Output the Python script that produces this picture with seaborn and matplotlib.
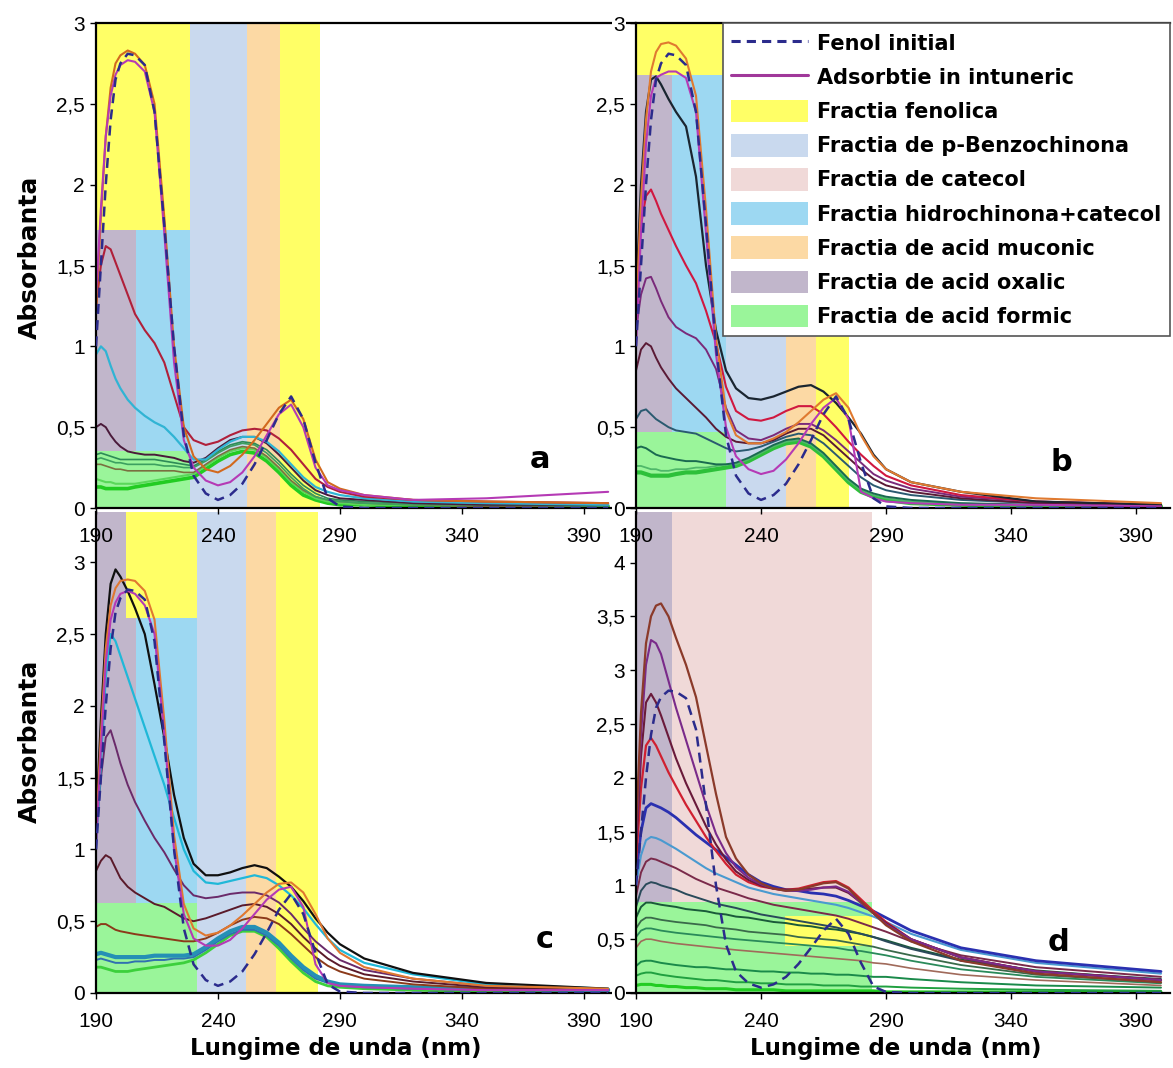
import matplotlib
matplotlib.use("Agg")
import matplotlib.pyplot as plt
from matplotlib.patches import Patch
from matplotlib.lines import Line2D
import seaborn as sns

WAVELENGTH = [190, 192, 194, 196, 198, 200, 203, 206, 210, 214,
              218, 222, 226, 230, 235, 240, 245, 250, 255, 260,
              265, 270, 275, 280, 285, 290, 300, 320, 350, 400]

FENOL_INITIAL = [1.00, 1.50, 2.00, 2.40, 2.65, 2.75, 2.81, 2.80, 2.74, 2.45,
                 1.75, 1.00, 0.45, 0.20, 0.09, 0.05, 0.08, 0.15, 0.27, 0.42,
                 0.58, 0.69, 0.55, 0.28, 0.06, 0.01, 0.00, 0.00, 0.00, 0.00]

# panel a
A_ORANGE = [1.20, 1.80, 2.30, 2.60, 2.75, 2.80, 2.83, 2.81, 2.74, 2.50,
            1.80, 1.00, 0.50, 0.32, 0.24, 0.22, 0.26, 0.33, 0.42, 0.52,
            0.62, 0.67, 0.55, 0.30, 0.16, 0.12, 0.08, 0.05, 0.04, 0.03]
A_ADS = [1.30, 1.85, 2.30, 2.55, 2.68, 2.74, 2.77, 2.76, 2.70, 2.45,
         1.70, 0.90, 0.42, 0.25, 0.17, 0.14, 0.16, 0.22, 0.32, 0.45,
         0.58, 0.64, 0.50, 0.25, 0.14, 0.11, 0.08, 0.05, 0.06, 0.10]
A_MAROON = [1.25, 1.50, 1.62, 1.60, 1.52, 1.44, 1.32, 1.20, 1.10, 1.02,
            0.90, 0.70, 0.50, 0.42, 0.39, 0.41, 0.45, 0.48, 0.49, 0.48,
            0.43, 0.36, 0.27, 0.18, 0.13, 0.10, 0.07, 0.05, 0.04, 0.03]
A_CYAN = [0.95, 1.00, 0.97, 0.88, 0.80, 0.74, 0.67, 0.62, 0.57, 0.53,
          0.50, 0.44, 0.37, 0.30, 0.30, 0.36, 0.41, 0.44, 0.44, 0.41,
          0.35, 0.27, 0.19, 0.13, 0.10, 0.08, 0.06, 0.04, 0.03, 0.02]
A_DARK = [0.50, 0.52, 0.50, 0.45, 0.41, 0.38, 0.35, 0.34, 0.33, 0.33,
          0.32, 0.31, 0.29, 0.28, 0.31, 0.37, 0.42, 0.44, 0.44, 0.40,
          0.33, 0.25, 0.17, 0.11, 0.08, 0.06, 0.05, 0.03, 0.02, 0.02]
A_GREEN1 = [0.33, 0.34, 0.33, 0.32, 0.31, 0.30, 0.30, 0.30, 0.30, 0.30,
            0.29, 0.28, 0.27, 0.26, 0.30, 0.35, 0.39, 0.41, 0.40, 0.36,
            0.29, 0.21, 0.14, 0.09, 0.06, 0.05, 0.04, 0.03, 0.02, 0.02]
A_GREEN2 = [0.30, 0.31, 0.30, 0.29, 0.28, 0.28, 0.27, 0.27, 0.27, 0.27,
            0.26, 0.26, 0.25, 0.25, 0.29, 0.34, 0.38, 0.40, 0.39, 0.34,
            0.27, 0.19, 0.12, 0.07, 0.05, 0.04, 0.03, 0.02, 0.02, 0.01]
A_OLIVE = [0.27, 0.27, 0.26, 0.25, 0.24, 0.24, 0.23, 0.23, 0.23, 0.23,
           0.23, 0.23, 0.22, 0.22, 0.27, 0.32, 0.36, 0.38, 0.37, 0.32,
           0.25, 0.17, 0.11, 0.07, 0.05, 0.04, 0.03, 0.02, 0.01, 0.01]
A_GREEN3 = [0.18, 0.17, 0.16, 0.16, 0.15, 0.15, 0.15, 0.15, 0.16, 0.17,
            0.18, 0.19, 0.20, 0.21, 0.26, 0.31, 0.35, 0.37, 0.36, 0.31,
            0.24, 0.16, 0.10, 0.06, 0.04, 0.03, 0.02, 0.02, 0.01, 0.01]
A_GREEN4 = [0.13, 0.13, 0.12, 0.12, 0.12, 0.12, 0.12, 0.13, 0.14, 0.15,
            0.16, 0.17, 0.18, 0.19, 0.24, 0.29, 0.33, 0.35, 0.34, 0.29,
            0.22, 0.14, 0.08, 0.05, 0.03, 0.02, 0.02, 0.01, 0.01, 0.01]

# panel b
B_ORANGE = [1.20, 1.90, 2.40, 2.70, 2.82, 2.87, 2.88, 2.86, 2.78, 2.55,
            1.85, 1.05, 0.60, 0.45, 0.40, 0.40, 0.43, 0.47, 0.53, 0.60,
            0.67, 0.71, 0.62, 0.45, 0.32, 0.24, 0.16, 0.10, 0.06, 0.03]
B_ADS = [1.00, 1.70, 2.25, 2.55, 2.66, 2.68, 2.70, 2.70, 2.66, 2.45,
         1.70, 0.95, 0.50, 0.32, 0.24, 0.21, 0.23, 0.30, 0.40, 0.52,
         0.62, 0.68, 0.55, 0.10, 0.06, 0.04, 0.03, 0.02, 0.02, 0.01]
B_BLACK = [1.30, 2.00, 2.45, 2.65, 2.67, 2.62, 2.53, 2.45, 2.36, 2.05,
           1.50, 1.10, 0.85, 0.74, 0.68, 0.67, 0.69, 0.72, 0.75, 0.76,
           0.72, 0.65, 0.56, 0.46, 0.33, 0.24, 0.16, 0.10, 0.04, 0.02]
B_RED = [1.40, 1.75, 1.93, 1.97, 1.90, 1.82, 1.72, 1.62, 1.50, 1.39,
         1.22, 1.02, 0.75, 0.60, 0.55, 0.54, 0.56, 0.60, 0.63, 0.63,
         0.58, 0.50, 0.41, 0.33, 0.26, 0.20, 0.14, 0.08, 0.04, 0.02]
B_PURPLE = [1.10, 1.32, 1.42, 1.43, 1.36, 1.28, 1.18, 1.12, 1.08, 1.05,
            0.98, 0.86, 0.62, 0.48, 0.43, 0.42, 0.45, 0.49, 0.52, 0.52,
            0.48, 0.42, 0.35, 0.28, 0.21, 0.17, 0.12, 0.07, 0.04, 0.02]
B_MAROON = [0.85, 0.98, 1.02, 1.00, 0.93, 0.87, 0.80, 0.74, 0.68, 0.62,
            0.56, 0.49, 0.44, 0.41, 0.40, 0.40, 0.42, 0.46, 0.49, 0.49,
            0.45, 0.38, 0.31, 0.24, 0.18, 0.14, 0.10, 0.06, 0.03, 0.02]
B_TEAL = [0.55, 0.60, 0.61, 0.58, 0.55, 0.53, 0.50, 0.48, 0.47, 0.46,
          0.43, 0.40, 0.37, 0.35, 0.36, 0.38, 0.41, 0.44, 0.46, 0.45,
          0.40, 0.33, 0.26, 0.19, 0.14, 0.11, 0.08, 0.05, 0.03, 0.02]
B_DGREEN = [0.37, 0.38, 0.37, 0.35, 0.33, 0.32, 0.31, 0.30, 0.29, 0.29,
            0.28, 0.27, 0.27, 0.28, 0.31, 0.35, 0.39, 0.42, 0.43, 0.40,
            0.34, 0.26, 0.18, 0.12, 0.09, 0.07, 0.05, 0.03, 0.02, 0.01]
B_GREEN2 = [0.26, 0.26, 0.25, 0.24, 0.24, 0.23, 0.23, 0.24, 0.24, 0.25,
            0.25, 0.26, 0.27, 0.27, 0.30, 0.34, 0.38, 0.41, 0.42, 0.39,
            0.33, 0.25, 0.17, 0.11, 0.08, 0.06, 0.04, 0.02, 0.01, 0.01]
B_GREEN = [0.22, 0.22, 0.21, 0.20, 0.20, 0.20, 0.20, 0.21, 0.22, 0.22,
           0.23, 0.24, 0.25, 0.26, 0.29, 0.33, 0.37, 0.40, 0.41, 0.38,
           0.32, 0.24, 0.16, 0.10, 0.07, 0.05, 0.03, 0.02, 0.01, 0.01]

# panel c
C_ORANGE = [1.10, 1.80, 2.40, 2.70, 2.82, 2.87, 2.88, 2.87, 2.80, 2.60,
            1.90, 1.10, 0.62, 0.45, 0.40, 0.42, 0.47, 0.54, 0.62, 0.70,
            0.76, 0.77, 0.70, 0.55, 0.38, 0.28, 0.18, 0.10, 0.05, 0.03]
C_ADS = [1.00, 1.70, 2.30, 2.60, 2.72, 2.78, 2.80, 2.78, 2.70, 2.50,
         1.80, 1.00, 0.55, 0.38, 0.33, 0.33, 0.37, 0.45, 0.55, 0.65,
         0.72, 0.74, 0.60, 0.20, 0.07, 0.05, 0.04, 0.03, 0.02, 0.02]
C_BLACK = [1.20, 1.90, 2.50, 2.85, 2.95, 2.90, 2.80, 2.68, 2.50, 2.15,
           1.78, 1.38, 1.08, 0.90, 0.82, 0.82, 0.84, 0.87, 0.89, 0.87,
           0.81, 0.74, 0.64, 0.52, 0.42, 0.34, 0.24, 0.14, 0.07, 0.03]
C_CYAN = [1.00, 1.60, 2.20, 2.50, 2.45, 2.35, 2.20, 2.05, 1.85, 1.65,
          1.45, 1.22, 1.00, 0.85, 0.77, 0.76, 0.78, 0.80, 0.82, 0.80,
          0.75, 0.68, 0.59, 0.48, 0.38, 0.30, 0.21, 0.13, 0.06, 0.03]
C_PURPLE = [1.10, 1.50, 1.78, 1.83, 1.72, 1.60, 1.45, 1.33, 1.20, 1.08,
            0.98, 0.86, 0.75, 0.68, 0.66, 0.67, 0.69, 0.70, 0.70, 0.68,
            0.63, 0.55, 0.45, 0.36, 0.29, 0.23, 0.16, 0.10, 0.05, 0.03]
C_MAROON = [0.85, 0.92, 0.96, 0.94, 0.87, 0.80, 0.74, 0.70, 0.66, 0.62,
            0.60, 0.56, 0.52, 0.50, 0.52, 0.55, 0.58, 0.61, 0.62, 0.60,
            0.55, 0.48, 0.39, 0.31, 0.24, 0.19, 0.13, 0.08, 0.04, 0.02]
C_BROWN = [0.46, 0.48, 0.48, 0.46, 0.44, 0.43, 0.42, 0.41, 0.40, 0.39,
           0.38, 0.37, 0.36, 0.36, 0.38, 0.42, 0.47, 0.51, 0.53, 0.52,
           0.48, 0.41, 0.33, 0.25, 0.19, 0.15, 0.10, 0.06, 0.03, 0.02]
C_TEAL = [0.27, 0.28, 0.27, 0.26, 0.25, 0.25, 0.25, 0.25, 0.25, 0.26,
          0.26, 0.26, 0.26, 0.27, 0.32, 0.38, 0.43, 0.46, 0.46, 0.42,
          0.35, 0.26, 0.18, 0.12, 0.08, 0.06, 0.05, 0.04, 0.03, 0.02]
C_BLUE = [0.23, 0.24, 0.23, 0.22, 0.21, 0.21, 0.21, 0.22, 0.22, 0.23,
          0.23, 0.24, 0.24, 0.25, 0.30, 0.36, 0.41, 0.44, 0.44, 0.40,
          0.33, 0.24, 0.16, 0.10, 0.07, 0.05, 0.04, 0.03, 0.02, 0.02]
C_GREEN = [0.18, 0.18, 0.17, 0.16, 0.15, 0.15, 0.15, 0.16, 0.17, 0.18,
           0.19, 0.20, 0.21, 0.23, 0.28, 0.34, 0.40, 0.43, 0.43, 0.39,
           0.31, 0.22, 0.14, 0.08, 0.05, 0.04, 0.03, 0.02, 0.01, 0.01]

# panel d
D_BROWN = [1.50, 2.60, 3.25, 3.50, 3.60, 3.62, 3.50, 3.30, 3.05, 2.75,
           2.30, 1.85, 1.45, 1.25, 1.10, 1.02, 0.97, 0.95, 0.96, 0.99,
           1.02, 1.03, 0.97, 0.85, 0.74, 0.63, 0.48, 0.30, 0.18, 0.10]
D_PURPLE = [1.40, 2.40, 3.05, 3.28, 3.25, 3.15, 2.90, 2.65, 2.35, 2.05,
            1.75, 1.48, 1.30, 1.17, 1.07, 1.01, 0.97, 0.95, 0.95, 0.96,
            0.98, 0.99, 0.94, 0.84, 0.74, 0.64, 0.50, 0.33, 0.20, 0.12]
D_DMAROON = [1.30, 2.20, 2.70, 2.78, 2.70, 2.58, 2.38, 2.18, 1.95, 1.75,
             1.55, 1.38, 1.24, 1.13, 1.05, 1.00, 0.97, 0.96, 0.96, 0.97,
             0.98, 0.98, 0.93, 0.84, 0.74, 0.65, 0.50, 0.33, 0.20, 0.12]
D_RED = [1.20, 1.90, 2.30, 2.37, 2.30, 2.20, 2.05, 1.92, 1.75, 1.60,
         1.45, 1.32, 1.20, 1.10, 1.03, 0.99, 0.97, 0.96, 0.97, 1.00,
         1.03, 1.04, 0.98, 0.87, 0.76, 0.66, 0.50, 0.33, 0.20, 0.12]
D_BLUE = [1.10, 1.50, 1.72, 1.76, 1.74, 1.72, 1.68, 1.63, 1.55, 1.47,
          1.40, 1.33, 1.26, 1.19, 1.10, 1.03, 0.99, 0.96, 0.95, 0.93,
          0.92, 0.90, 0.86, 0.81, 0.76, 0.70, 0.58, 0.42, 0.30, 0.20]
D_LBLUE = [1.00, 1.28, 1.42, 1.45, 1.44, 1.42, 1.38, 1.34, 1.28, 1.22,
           1.16, 1.11, 1.07, 1.03, 0.98, 0.95, 0.92, 0.90, 0.88, 0.86,
           0.84, 0.82, 0.79, 0.75, 0.71, 0.66, 0.55, 0.40, 0.28, 0.18]
D_MAROON = [0.90, 1.12, 1.22, 1.25, 1.24, 1.22, 1.19, 1.16, 1.11, 1.06,
            1.02, 0.98, 0.95, 0.92, 0.88, 0.85, 0.82, 0.80, 0.78, 0.76,
            0.74, 0.72, 0.69, 0.65, 0.61, 0.57, 0.48, 0.35, 0.24, 0.15]
D_SLATE = [0.80, 0.95, 1.01, 1.03, 1.02, 1.00, 0.98, 0.96, 0.92, 0.89,
           0.86, 0.83, 0.81, 0.79, 0.76, 0.73, 0.71, 0.69, 0.67, 0.65,
           0.63, 0.61, 0.58, 0.55, 0.52, 0.48, 0.41, 0.30, 0.20, 0.13]
D_GREEN1 = [0.70, 0.80, 0.84, 0.84, 0.83, 0.82, 0.81, 0.80, 0.78, 0.77,
            0.76, 0.74, 0.73, 0.71, 0.70, 0.68, 0.66, 0.65, 0.63, 0.62,
            0.60, 0.59, 0.57, 0.55, 0.52, 0.49, 0.42, 0.31, 0.21, 0.12]
D_GREEN2 = [0.60, 0.67, 0.70, 0.70, 0.69, 0.68, 0.67, 0.66, 0.65, 0.64,
            0.63, 0.61, 0.60, 0.59, 0.57, 0.56, 0.55, 0.54, 0.52, 0.51,
            0.50, 0.49, 0.47, 0.45, 0.43, 0.40, 0.35, 0.26, 0.17, 0.10]
D_GREEN3 = [0.52, 0.58, 0.60, 0.60, 0.59, 0.58, 0.57, 0.56, 0.55, 0.54,
            0.53, 0.52, 0.51, 0.50, 0.49, 0.48, 0.47, 0.46, 0.45, 0.44,
            0.43, 0.42, 0.40, 0.39, 0.37, 0.35, 0.30, 0.22, 0.15, 0.09]
D_TAN = [0.42, 0.48, 0.50, 0.50, 0.49, 0.48, 0.47, 0.46, 0.45, 0.44,
         0.43, 0.42, 0.41, 0.40, 0.39, 0.38, 0.37, 0.36, 0.35, 0.34,
         0.33, 0.32, 0.31, 0.30, 0.28, 0.27, 0.23, 0.17, 0.12, 0.07]
D_GREEN5 = [0.25, 0.29, 0.30, 0.30, 0.29, 0.28, 0.27, 0.26, 0.25, 0.24,
            0.24, 0.23, 0.22, 0.22, 0.21, 0.20, 0.20, 0.19, 0.19, 0.18,
            0.18, 0.17, 0.17, 0.16, 0.15, 0.15, 0.13, 0.10, 0.07, 0.05]
D_GREEN6 = [0.16, 0.18, 0.19, 0.19, 0.18, 0.17, 0.16, 0.15, 0.14, 0.13,
            0.12, 0.12, 0.11, 0.10, 0.10, 0.09, 0.09, 0.08, 0.08, 0.08,
            0.07, 0.07, 0.07, 0.06, 0.06, 0.06, 0.05, 0.04, 0.03, 0.02]
D_GREEN7 = [0.07, 0.08, 0.08, 0.08, 0.07, 0.07, 0.06, 0.06, 0.05, 0.05,
            0.04, 0.04, 0.04, 0.03, 0.03, 0.03, 0.03, 0.02, 0.02, 0.02,
            0.02, 0.02, 0.02, 0.02, 0.02, 0.01, 0.01, 0.01, 0.01, 0.01]

FRACTION_LABELS = {
    "fenolica": "Fractia fenolica",
    "benzo": "Fractia de p-Benzochinona",
    "catecol": "Fractia de catecol",
    "hidro": "Fractia hidrochinona+catecol",
    "muconic": "Fractia de acid muconic",
    "oxalic": "Fractia de acid oxalic",
    "formic": "Fractia de acid formic",
}
FRACTION_COLORS = {
    "fenolica": "#FFFF66",
    "benzo": "#C9D9EE",
    "catecol": "#F0D9D8",
    "hidro": "#9DD8F2",
    "muconic": "#FCD9A4",
    "oxalic": "#C1B6CB",
    "formic": "#9AF59A",
}

# fraction bands: (fraction, nm from, nm to, absorbance from, absorbance to)
BANDS_A = [("fenolica", 190, 228.5, 1.72, 5), ("oxalic", 190, 206.5, 0.35, 1.72),
           ("hidro", 206.5, 228.5, 0.35, 1.72), ("formic", 190, 228.5, 0, 0.35),
           ("benzo", 228.5, 252, 0, 5), ("muconic", 252, 265.5, 0, 5),
           ("fenolica", 265.5, 282, 0, 5)]
BANDS_B = [("fenolica", 190, 226, 2.68, 5), ("oxalic", 190, 204.4, 0.47, 2.68),
           ("hidro", 204.4, 226, 0.47, 2.68), ("formic", 190, 226, 0, 0.47),
           ("benzo", 226, 250, 0, 5), ("muconic", 250, 262, 0, 5),
           ("fenolica", 262, 275, 0, 5)]
BANDS_C = [("oxalic", 190, 202.2, 0.63, 5), ("fenolica", 202.2, 231.5, 2.61, 5),
           ("oxalic", 202.2, 206.3, 0.63, 2.61), ("hidro", 206.3, 231.5, 0.63, 2.61),
           ("formic", 190, 231.5, 0, 0.63), ("benzo", 231.5, 251.5, 0, 5),
           ("muconic", 251.5, 264, 0, 5), ("fenolica", 264, 281, 0, 5)]
BANDS_D = [("oxalic", 190, 204.5, 0.85, 5), ("catecol", 204.5, 284.5, 0.85, 5),
           ("formic", 190, 284.5, 0, 0.85), ("fenolica", 249.6, 284.5, 0.44, 0.72)]

CURVES_A = [(A_GREEN4, "#22CC22", 2.6), (A_GREEN3, "#5AD85A", 1.5),
            (A_OLIVE, "#7A7040", 1.2), (A_GREEN2, "#3CA060", 1.2),
            (A_GREEN1, "#2E8B57", 1.2), (A_DARK, "#4A1A3A", 1.4),
            (A_CYAN, "#30B4D4", 1.6), (A_MAROON, "#B0203A", 1.5),
            (A_ORANGE, "#D2691E", 1.5), (A_ADS, "#B53AB5", 1.5)]
CURVES_B = [(B_GREEN, "#2DC03A", 3.0), (B_GREEN2, "#4FB86A", 1.3),
            (B_DGREEN, "#1A6A50", 1.4), (B_TEAL, "#2A5A70", 1.4),
            (B_MAROON, "#5A1A35", 1.4), (B_PURPLE, "#7A2A7A", 1.4),
            (B_RED, "#D01840", 1.5), (B_BLACK, "#1A2530", 1.6),
            (B_ORANGE, "#E07A30", 1.5), (B_ADS, "#B53AB5", 1.5)]
CURVES_C = [(C_GREEN, "#3CD03C", 2.0), (C_BLUE, "#3070B0", 1.4),
            (C_TEAL, "#2590B5", 3.0), (C_BROWN, "#8B3A1A", 1.4),
            (C_MAROON, "#5A1A2A", 1.4), (C_PURPLE, "#6A2A6A", 1.4),
            (C_CYAN, "#20B8D8", 1.6), (C_BLACK, "#101010", 1.6),
            (C_ORANGE, "#E07830", 1.5), (C_ADS, "#B53AB5", 1.5)]
CURVES_D = [(D_GREEN7, "#22CC22", 2.2), (D_GREEN6, "#20A040", 1.4),
            (D_GREEN5, "#1A8A4A", 1.4), (D_TAN, "#A06A5A", 1.2),
            (D_GREEN3, "#2A8A5A", 1.3), (D_GREEN2, "#3A6A4A", 1.3),
            (D_GREEN1, "#1A5A3A", 1.4), (D_SLATE, "#2A4A5A", 1.4),
            (D_MAROON, "#7A2A4A", 1.4), (D_LBLUE, "#4A9AD0", 1.5),
            (D_BLUE, "#2A30B0", 2.0), (D_RED, "#D02030", 1.6),
            (D_DMAROON, "#6A1A3A", 1.5), (D_PURPLE, "#7A2A8A", 1.5),
            (D_BROWN, "#8B3A2A", 1.6)]

X_TICKS = [190, 240, 290, 340, 390]
Y_TICKS_3 = [0, 0.5, 1, 1.5, 2, 2.5, 3]
Y_TICKS_4 = [0, 0.5, 1, 1.5, 2, 2.5, 3, 3.5, 4]

FENOL_COLOR = "#2B2B8C"
ADS_COLOR = "#A0389A"

sns.set_style("ticks")
plt.rcParams["font.family"] = ["Liberation Sans", "DejaVu Sans"]
plt.rcParams["text.color"] = "black"

W, H = 1173, 1068
fig = plt.figure(figsize=(W / 100, H / 100), dpi=100)


def px_axes(left, top, right, bottom):
    return fig.add_axes([left / W, 1 - bottom / H, (right - left) / W, (bottom - top) / H])


def comma(v):
    return ("%g" % v).replace(".", ",")


ax_c = px_axes(96, 512, 635, 993)
ax_d = px_axes(636, 512, 1170, 993)
ax_a = px_axes(96, 23, 635, 508)
ax_b = px_axes(636, 23, 1170, 508)

panels = [
    (ax_a, BANDS_A, CURVES_A, (190, 411), 3.0, Y_TICKS_3, "a", (372, 0.30), True, False),
    (ax_b, BANDS_B, CURVES_B, (190, 403.6), 3.0, Y_TICKS_3, "b", (360, 0.28), True, True),
    (ax_c, BANDS_C, CURVES_C, (190, 411), 3.35, Y_TICKS_3, "c", (374, 0.37), False, False),
    (ax_d, BANDS_D, CURVES_D, (190, 403.6), 4.47, Y_TICKS_4, "d", (359, 0.47), False, True),
]

for ax, bands, curves, xlim, ytop, yticks, letter, letter_pos, top, boxed in panels:
    for frac, x0, x1, y0, y1 in bands:
        ax.fill_between([x0, x1], [y0, y0], [y1, y1], color=FRACTION_COLORS[frac],
                        lw=0, zorder=0)
    for values, color, lw in curves:
        sns.lineplot(x=WAVELENGTH, y=values, ax=ax, color=color, lw=lw, zorder=2)
    sns.lineplot(x=WAVELENGTH, y=FENOL_INITIAL, ax=ax, color=FENOL_COLOR, lw=1.8,
                 zorder=3, dashes=False, linestyle=(0, (4, 2.5)))

    ax.set_xlim(*xlim)
    ax.set_ylim(0, ytop)
    ax.set_xticks(X_TICKS)
    ax.set_xticklabels([str(t) for t in X_TICKS])
    ax.set_yticks(yticks)
    ax.set_yticklabels([comma(t) for t in yticks])
    ax.tick_params(axis="both", direction="out", length=4, width=1, labelsize=15,
                   colors="black")
    ax.tick_params(axis="x", pad=10)
    ax.tick_params(axis="y", pad=4)
    ax.set_xlabel("")
    ax.set_ylabel("")
    ax.set_facecolor("white")
    for side in ["left", "bottom", "top"]:
        ax.spines[side].set_linewidth(1.6)
        ax.spines[side].set_color("black")
    ax.spines["right"].set_visible(False)
    ax.spines["top"].set_visible(top)
    if boxed:
        for lbl in ax.get_yticklabels():
            lbl.set_bbox(dict(facecolor="white", edgecolor="none", pad=1))
    ax.text(letter_pos[0], letter_pos[1], letter, fontsize=22, fontweight="bold",
            family="DejaVu Sans", ha="center", va="center", color="black")

# legend in panel b
handles = [Line2D([0], [0], color=FENOL_COLOR, lw=2.2, linestyle=(0, (3, 2))),
           Line2D([0], [0], color=ADS_COLOR, lw=2.2)]
labels = ["Fenol initial", "Adsorbtie in intuneric"]
for key in ["fenolica", "benzo", "catecol", "hidro", "muconic", "oxalic", "formic"]:
    handles.append(Patch(facecolor=FRACTION_COLORS[key], edgecolor="none"))
    labels.append(FRACTION_LABELS[key])
leg = ax_b.legend(handles, labels, loc="upper right", bbox_to_anchor=(1.0, 1.0),
                  borderaxespad=0, frameon=True, fancybox=False, framealpha=1,
                  edgecolor="#555555", handlelength=3.7, handleheight=1.3,
                  handletextpad=0.45, labelspacing=0.55, borderpad=0.4,
                  labelcolor="black",
                  prop={"family": "DejaVu Sans", "weight": "bold", "size": 15})
leg.get_frame().set_linewidth(1.2)

# axis titles
for yc in [257, 741]:
    fig.text(30 / W, 1 - yc / H, "Absorbanta", rotation=90, ha="center", va="center",
             fontsize=18, fontweight="bold", family="DejaVu Sans", color="black")
for xc in [336, 896]:
    fig.text(xc / W, 1 - 1048 / H, "Lungime de unda (nm)", ha="center", va="center",
             fontsize=16.5, fontweight="bold", family="DejaVu Sans", color="black")

fig.savefig("out.png", dpi=100, facecolor="white")
